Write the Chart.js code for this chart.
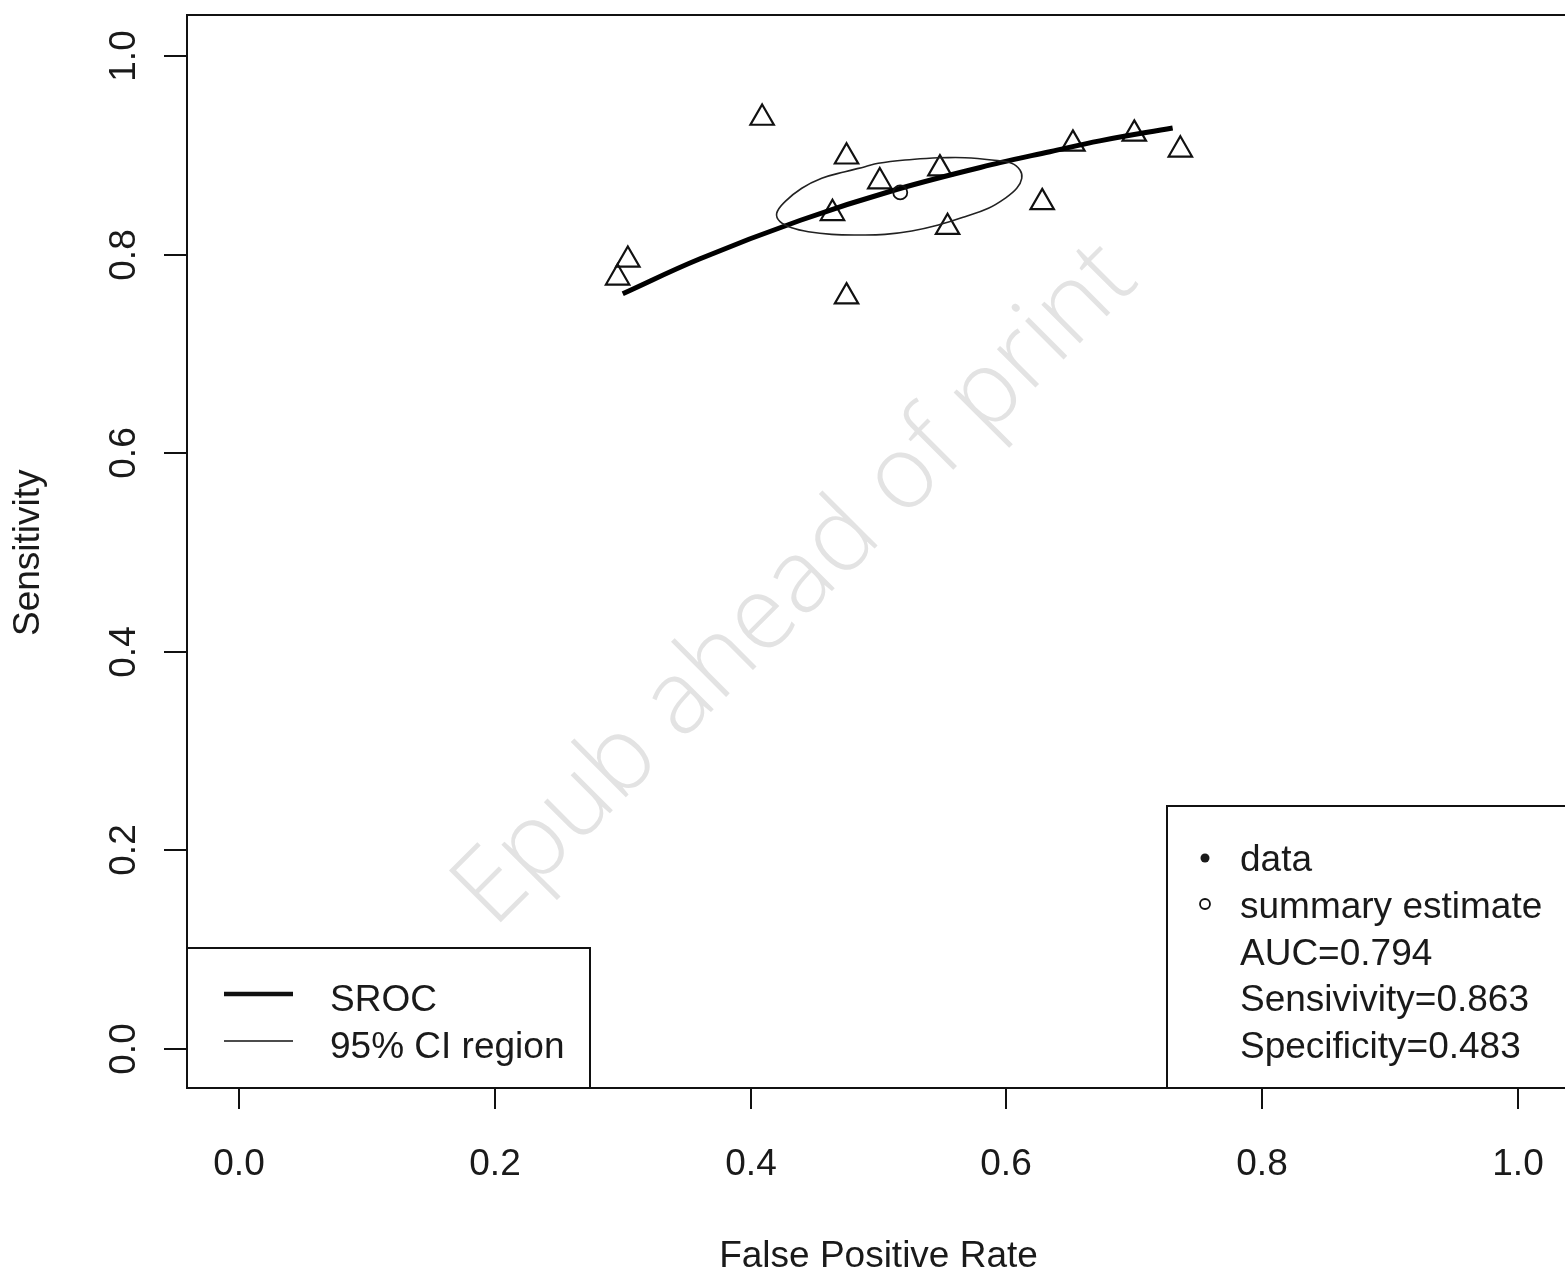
<!DOCTYPE html>
<html>
<head>
<meta charset="utf-8">
<title>SROC</title>
<script src="https://cdn.jsdelivr.net/npm/chart.js@4.4.1/dist/chart.umd.min.js"></script>
<style>
  html, body { margin: 0; padding: 0; background: #fff; overflow: hidden; }
  #wrap { width: 1565px; height: 1272px; overflow: hidden; }
  canvas { display: block; }
</style>
</head>
<body>
<div id="wrap"><canvas id="srocChart" width="1572" height="1272" style="width:1572px;height:1272px"></canvas></div>
<script>
  "use strict";

  // study points (false positive rate, sensitivity)
  const studyFpr  = [0.409, 0.475, 0.501, 0.548, 0.464, 0.554, 0.628, 0.652, 0.700, 0.736, 0.304, 0.296, 0.475];
  const studySens = [0.938, 0.899, 0.874, 0.887, 0.842, 0.828, 0.853, 0.912, 0.922, 0.906, 0.795, 0.777, 0.758];

  // SROC curve
  const srocFpr  = [0.300, 0.360, 0.439, 0.514, 0.595, 0.634, 0.673, 0.730];
  const srocSens = [0.761, 0.796, 0.835, 0.866, 0.893, 0.904, 0.915, 0.928];

  // 95% confidence region outline (starts at the top, goes clockwise)
  const ciFpr  = [0.5468, 0.5676, 0.5885, 0.6041, 0.6106, 0.6120, 0.6081, 0.5989, 0.5859, 0.5676, 0.5468, 0.5260, 0.5051, 0.4842,
                  0.4634, 0.4451, 0.4321, 0.4230, 0.4204, 0.4269, 0.4400, 0.4556, 0.4738, 0.4895, 0.4998, 0.5207, 0.5468];
  const ciSens = [0.8980, 0.8980, 0.8957, 0.8924, 0.8856, 0.8773, 0.8672, 0.8571, 0.8471, 0.8386, 0.8302, 0.8242, 0.8208, 0.8202,
                  0.8208, 0.8235, 0.8275, 0.8336, 0.8420, 0.8537, 0.8672, 0.8773, 0.8839, 0.8890, 0.8924, 0.8957, 0.8980];

  // summary estimate
  const summaryFpr  = [0.517];
  const summarySens = [0.863];

  const xTicks = [0, 0.2, 0.4, 0.6, 0.8, 1.0];
  const yTicks = [0, 0.2, 0.4, 0.6, 0.8, 1.0];
  const xTickLabels = ['0.0', '0.2', '0.4', '0.6', '0.8', '1.0'];
  const yTickLabels = ['0.0', '0.2', '0.4', '0.6', '0.8', '1.0'];

  const leftLegend  = ['SROC', '95% CI region'];
  const rightLegend = ['data', 'summary estimate', 'AUC=0.794', 'Sensivivity=0.863', 'Specificity=0.483'];

  const FONT = '37px "Liberation Sans", Arial, sans-serif';
  const INK = '#1a1a1a';

  function toPoints(xs, ys) { return xs.map((x, i) => ({ x: x, y: ys[i] })); }

  // watermark behind the marks
  const watermarkPlugin = {
    id: 'watermark',
    beforeDatasetsDraw(chart) {
      const ctx = chart.ctx;
      const text = 'Epub ahead of print';
      ctx.save();
      ctx.translate(817, 606);
      ctx.rotate(-Math.PI / 4);
      ctx.font = '300 100px "Open Sans", Lato, sans-serif';
      const w = ctx.measureText(text).width;
      ctx.font = '300 ' + (100 * 915 / w).toFixed(1) + 'px "Open Sans", Lato, sans-serif';
      ctx.fillStyle = '#e3e3e3';
      ctx.textAlign = 'center';
      ctx.textBaseline = 'alphabetic';
      ctx.fillText(text, 0, 0);
      ctx.restore();
    }
  };

  // R style frame, axes and legends
  const rFramePlugin = {
    id: 'rFrame',
    afterDraw(chart) {
      const ctx = chart.ctx;
      const a = chart.chartArea;
      const xs = chart.scales.x, ys = chart.scales.y;
      ctx.save();
      ctx.strokeStyle = '#111';
      ctx.fillStyle = INK;
      ctx.lineWidth = 2;

      // box
      ctx.strokeRect(a.left, a.top, a.right - a.left, a.bottom - a.top);

      // x axis
      ctx.font = FONT;
      ctx.textAlign = 'center';
      ctx.textBaseline = 'alphabetic';
      xTicks.forEach((v, i) => {
        const px = Math.round(xs.getPixelForValue(v));
        ctx.beginPath();
        ctx.moveTo(px, a.bottom);
        ctx.lineTo(px, a.bottom + 21);
        ctx.stroke();
        ctx.fillText(xTickLabels[i], px, a.bottom + 87);
      });
      ctx.fillText('False Positive Rate', (xs.getPixelForValue(0) + xs.getPixelForValue(1)) / 2, 1267);

      // y axis
      yTicks.forEach((v, i) => {
        const py = Math.round(ys.getPixelForValue(v));
        ctx.beginPath();
        ctx.moveTo(a.left, py);
        ctx.lineTo(a.left - 23, py);
        ctx.stroke();
        ctx.save();
        ctx.translate(135, py);
        ctx.rotate(-Math.PI / 2);
        ctx.fillText(yTickLabels[i], 0, 0);
        ctx.restore();
      });
      ctx.save();
      ctx.translate(39, (ys.getPixelForValue(0) + ys.getPixelForValue(1)) / 2);
      ctx.rotate(-Math.PI / 2);
      ctx.fillText('Sensitivity', 0, 0);
      ctx.restore();

      // left legend
      const lTop = 948;
      ctx.fillStyle = '#fff';
      ctx.fillRect(a.left, lTop, 403, a.bottom - lTop);
      ctx.strokeRect(a.left, lTop, 403, a.bottom - lTop);
      ctx.fillStyle = INK;
      ctx.textAlign = 'left';
      ctx.lineWidth = 4.5;
      ctx.beginPath(); ctx.moveTo(224, 994); ctx.lineTo(293, 994); ctx.stroke();
      ctx.lineWidth = 1.6;
      ctx.beginPath(); ctx.moveTo(224, 1041); ctx.lineTo(293, 1041); ctx.stroke();
      ctx.fillText(leftLegend[0], 330, 1011);
      ctx.fillText(leftLegend[1], 330, 1058);

      // right legend
      const rLeft = 1167, rTop = 806;
      ctx.lineWidth = 2;
      ctx.fillStyle = '#fff';
      ctx.fillRect(rLeft, rTop, a.right - rLeft, a.bottom - rTop);
      ctx.strokeRect(rLeft, rTop, a.right - rLeft, a.bottom - rTop);
      ctx.fillStyle = INK;
      const rowBase = [871, 918, 965, 1011, 1058];
      rightLegend.forEach((t, i) => ctx.fillText(t, 1240, rowBase[i]));
      ctx.beginPath(); ctx.arc(1205, 858, 4.5, 0, Math.PI * 2); ctx.fill();
      ctx.lineWidth = 1.8;
      ctx.beginPath(); ctx.arc(1205, 904, 5, 0, Math.PI * 2); ctx.stroke();

      ctx.restore();
    }
  };

  new Chart(document.getElementById('srocChart'), {
    type: 'scatter',
    data: {
      datasets: [
        {
          label: 'summary estimate',
          data: toPoints(summaryFpr, summarySens),
          pointStyle: 'circle',
          pointRadius: 7,
          borderColor: '#111',
          backgroundColor: 'rgba(0,0,0,0)',
          borderWidth: 1.8,
        },
        {
          label: '95% CI region',
          data: toPoints(ciFpr, ciSens),
          showLine: true,
          tension: 0.4,
          pointRadius: 0,
          borderColor: '#222',
          borderWidth: 1.6,
        },
        {
          label: 'SROC',
          data: toPoints(srocFpr, srocSens),
          showLine: true,
          tension: 0.4,
          pointRadius: 0,
          borderColor: '#000',
          borderWidth: 5,
        },
        {
          label: 'data',
          data: toPoints(studyFpr, studySens),
          pointStyle: 'triangle',
          pointRadius: 13.5,
          borderColor: '#111',
          backgroundColor: 'rgba(0,0,0,0)',
          borderWidth: 2.2,
        }
      ]
    },
    options: {
      responsive: false,
      animation: false,
      layout: { autoPadding: false, padding: { left: 187, top: 15, right: 3, bottom: 184 } },
      plugins: { legend: { display: false }, tooltip: { enabled: false } },
      scales: {
        x: { type: 'linear', min: -0.0407, max: 1.0399, display: false },
        y: { type: 'linear', min: -0.0393, max: 1.0418, display: false }
      }
    },
    plugins: [watermarkPlugin, rFramePlugin]
  });
</script>
</body>
</html>
